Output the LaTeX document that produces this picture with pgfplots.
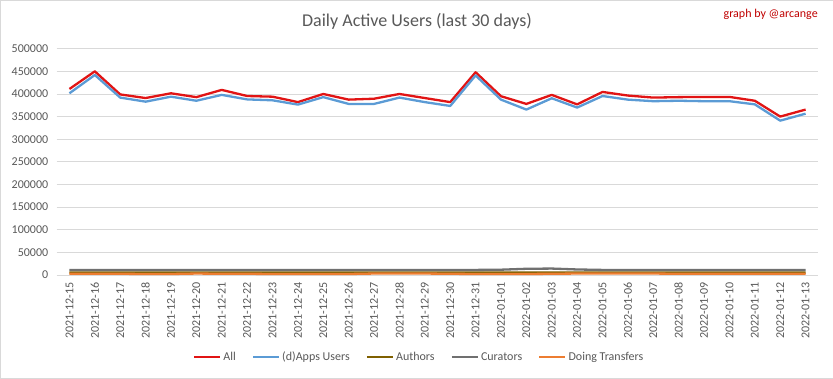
\documentclass[border=0pt]{standalone}
\usepackage{pgfplots}
\pgfplotsset{compat=1.18}
\usepackage{pgfplotstable}
\usepackage{fontspec}
\setmainfont{Carlito}
\definecolor{txtgray}{RGB}{89,89,89}
\definecolor{gridgray}{RGB}{217,217,217}
\definecolor{allred}{RGB}{225,20,20}
\definecolor{appblue}{RGB}{91,155,213}
\definecolor{authbrown}{RGB}{127,96,0}
\definecolor{curgray}{RGB}{112,112,112}
\definecolor{trorange}{RGB}{237,125,49}
\definecolor{sigred}{RGB}{192,0,0}

\pgfplotstableread{
x all apps authors curators transfers
0  411000 401500 5500 11000 2500
1  450000 442000 5500 11000 2500
2  399000 392000 5500 11000 2500
3  391000 383000 5000 11000 2000
4  401500 394000 5000 11000 2000
5  393000 385000 5500 11000 3000
6  409000 398000 5500 11000 2500
7  395500 388000 5500 11000 2500
8  394000 386000 5000 11000 2000
9  382000 376500 5000 11000 2000
10 400000 393000 5000 11000 2000
11 387500 378000 5000 11000 2000
12 389500 378000 5500 11000 3000
13 400000 392000 5500 11000 3000
14 391000 382000 5500 11000 3000
15 382000 373500 5000 11000 2500
16 448000 441000 5000 11000 2000
17 395000 387500 5000 11500 2000
18 378000 365500 5000 13500 2000
19 398000 390500 5000 14000 2500
20 377000 370000 5000 12000 3000
21 404500 395500 5500 11000 3000
22 396500 387500 5500 11000 3000
23 392000 384000 5500 11000 3000
24 393000 385000 5000 11000 2500
25 393500 384000 5000 11000 2500
26 393500 384000 5000 11000 2500
27 385000 377000 5000 11000 2500
28 350000 341000 5000 11000 2500
29 365500 356500 5000 11000 2500
}\dautab

\begin{document}
\begin{tikzpicture}
\draw[draw=gridgray,fill=white] (0.5pt,0.5pt) rectangle (832.5pt,378.5pt);
\node[text=txtgray,font=\fontsize{18}{20}\selectfont] at (417pt,357pt) {Daily Active Users (last 30 days)};
\node[text=sigred,font=\fontsize{12}{14}\selectfont,anchor=east] at (821pt,364pt) {graph by @arcange};
\begin{axis}[
  at={(57pt,104pt)}, anchor=south west,
  scale only axis, width=761pt, height=226pt,
  xmin=-0.5, xmax=29.5, ymin=0, ymax=500000,
  xtick={0,...,29},
  xticklabels={2021-12-15,2021-12-16,2021-12-17,2021-12-18,2021-12-19,2021-12-20,2021-12-21,2021-12-22,2021-12-23,2021-12-24,2021-12-25,2021-12-26,2021-12-27,2021-12-28,2021-12-29,2021-12-30,2021-12-31,2022-01-01,2022-01-02,2022-01-03,2022-01-04,2022-01-05,2022-01-06,2022-01-07,2022-01-08,2022-01-09,2022-01-10,2022-01-11,2022-01-12,2022-01-13},
  xticklabel style={rotate=90, anchor=east, text=txtgray, font=\fontsize{12}{14}\selectfont},
  xticklabel shift=4pt,
  ytick={0,50000,100000,150000,200000,250000,300000,350000,400000,450000,500000},
  yticklabels={0,50000,100000,150000,200000,250000,300000,350000,400000,450000,500000},
  scaled y ticks=false,
  yticklabel style={text=txtgray, font=\fontsize{12}{14}\selectfont},
  yticklabel shift=5pt,
  ymajorgrids, grid style={gridgray, line width=0.8pt},
  axis line style={draw=none},
  major tick length=0pt,
  xtick style={draw=none}, ytick style={draw=none},
  clip=false,
  legend columns=5,
  legend style={at={(0.476,-0.363)}, anchor=center, draw=none, fill=none,
    font=\fontsize{12}{14}\selectfont, text=txtgray,
    /tikz/every even column/.append style={column sep=14pt}},
  legend image code/.code={\draw[#1] (0pt,0pt) -- (26pt,0pt);},
  every axis plot/.append style={line width=2.3pt, line join=round},
]
\addplot[allred] table[x=x,y=all] {\dautab};
\addlegendentry{All}
\addplot[appblue] table[x=x,y=apps] {\dautab};
\addlegendentry{(d)Apps Users}
\addplot[authbrown] table[x=x,y=authors] {\dautab};
\addlegendentry{Authors}
\addplot[curgray] table[x=x,y=curators] {\dautab};
\addlegendentry{Curators}
\addplot[trorange] table[x=x,y=transfers] {\dautab};
\addlegendentry{Doing Transfers}
\end{axis}
\end{tikzpicture}
\end{document}
